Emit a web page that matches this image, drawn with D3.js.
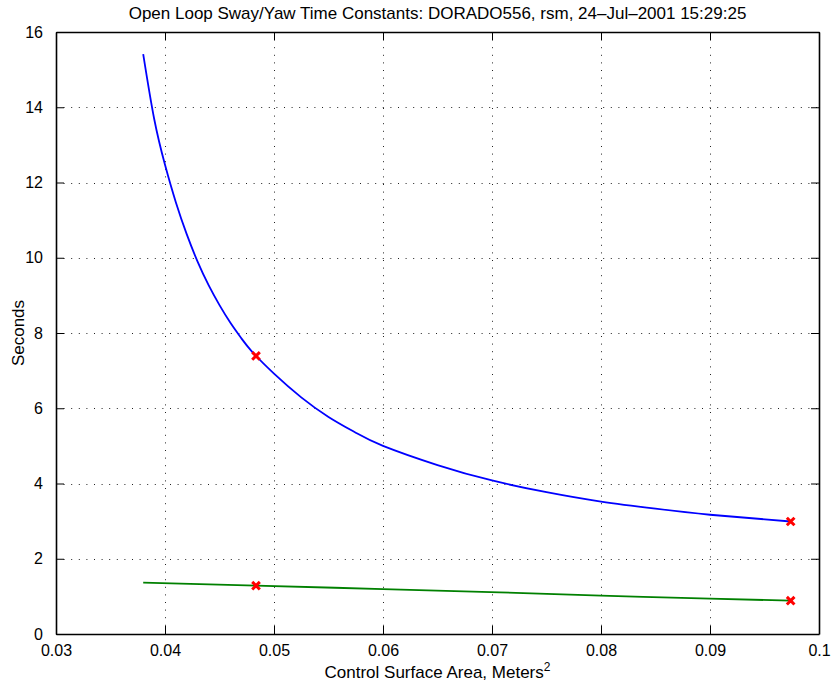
<!DOCTYPE html>
<html>
<head>
<meta charset="utf-8">
<script src="https://cdn.jsdelivr.net/npm/d3@7"></script>
<style>
  body { margin: 0; background: #fff; }
  text { font-family: "Liberation Sans", Arial, Helvetica, sans-serif; fill: #000; }
</style>
</head>
<body>
<div id="chart"></div>
<script>
// values
var swayX = [0.0380, 0.039, 0.040, 0.041, 0.042, 0.043, 0.044, 0.045, 0.046, 0.047, 0.048, 0.050, 0.0525, 0.055, 0.0575, 0.060, 0.065, 0.070, 0.075, 0.080, 0.085, 0.090, 0.0974];
var swayY = [15.41, 13.7, 12.47, 11.47, 10.62, 9.89, 9.27, 8.74, 8.27, 7.86, 7.5, 6.92, 6.29, 5.77, 5.35, 5.0, 4.49, 4.08, 3.77, 3.52, 3.33, 3.17, 2.99];
var yawX = [0.0380, 0.04835, 0.06, 0.0707, 0.08, 0.09, 0.0974];
var yawY = [1.364, 1.284, 1.195, 1.108, 1.018, 0.94, 0.886];
var markX = [0.04835, 0.0974];
var markSway = [7.39, 2.99];
var markYaw = [1.284, 0.886];
var xTicks = [0.03, 0.04, 0.05, 0.06, 0.07, 0.08, 0.09, 0.1];
var yTicks = [0, 2, 4, 6, 8, 10, 12, 14, 16];

var W = 831, H = 685;
var margin = {top: 32, right: 12, bottom: 51, left: 56};
var w = W - margin.left - margin.right,
    h = H - margin.top - margin.bottom;

var svg = d3.select("#chart").append("svg")
    .attr("width", W)
    .attr("height", H);

var g = svg.append("g")
    .attr("transform", "translate(" + margin.left + "," + margin.top + ")");

var x = d3.scaleLinear().domain([0.03, 0.1]).range([0, w]);
var y = d3.scaleLinear().domain([0, 16]).range([h, 0]);

//grid lines (dotted)
g.selectAll(".vgrid")
    .data(xTicks.slice(1, -1))
    .enter().append("line")
    .attr("x1", function(d){ return Math.round(x(d)) + 0.5; })
    .attr("x2", function(d){ return Math.round(x(d)) + 0.5; })
    .attr("y1", 0).attr("y2", h)
    .style("stroke", "#222")
    .style("stroke-width", 1)
    .style("stroke-dasharray", "1,6.6");

g.selectAll(".hgrid")
    .data(yTicks.slice(1, -1))
    .enter().append("line")
    .attr("y1", function(d){ return Math.round(y(d)) + 0.5; })
    .attr("y2", function(d){ return Math.round(y(d)) + 0.5; })
    .attr("x1", 0).attr("x2", w)
    .style("stroke", "#222")
    .style("stroke-width", 1)
    .style("stroke-dasharray", "1,6.6");

//axes with inward ticks
var tickLen = 8;
var xAxis = d3.axisBottom(x).tickValues(xTicks).tickSizeInner(-tickLen).tickSizeOuter(0).tickPadding(tickLen + 3)
    .tickFormat(function(d){ return d === 0.1 ? "0.1" : d3.format(".2f")(d); });
var xAxisTop = d3.axisTop(x).tickValues(xTicks).tickSizeInner(-tickLen).tickSizeOuter(0).tickFormat("");
var yAxis = d3.axisLeft(y).tickValues(yTicks).tickSizeInner(-tickLen).tickSizeOuter(0).tickPadding(tickLen + 5);
var yAxisRight = d3.axisRight(y).tickValues(yTicks).tickSizeInner(-tickLen).tickSizeOuter(0).tickFormat("");

function styleAxis(sel) {
    sel.selectAll("path").style("stroke", "#000").style("stroke-width", 1.6);
    sel.selectAll("line").style("stroke", "#000").style("stroke-width", 1);
    sel.selectAll("text").style("font-size", "16px").style("font-family", "'Liberation Sans', Arial, sans-serif").attr("fill", "#000");
}

g.append("g").attr("transform", "translate(0," + h + ")").call(xAxis).call(styleAxis);
g.append("g").call(xAxisTop).call(styleAxis);
g.append("g").call(yAxis).call(styleAxis);
g.append("g").attr("transform", "translate(" + w + ",0)").call(yAxisRight).call(styleAxis);

//curves
var line = d3.line()
    .x(function(d){ return x(d[0]); })
    .y(function(d){ return y(d[1]); })
    .curve(d3.curveNatural);

g.append("path")
    .datum(d3.zip(swayX, swayY))
    .attr("d", line)
    .style("fill", "none")
    .style("stroke", "#0000ff")
    .style("stroke-width", 1.8);

g.append("path")
    .datum(d3.zip(yawX, yawY))
    .attr("d", line)
    .style("fill", "none")
    .style("stroke", "#008000")
    .style("stroke-width", 1.8);

//red x markers
var marks = d3.zip(markX, markSway).concat(d3.zip(markX, markYaw));
var s = 3.8;
g.selectAll(".mark")
    .data(marks)
    .enter().append("path")
    .attr("class", "mark")
    .attr("d", function(d){
        var cx = x(d[0]), cy = y(d[1]);
        return "M" + (cx - s) + "," + (cy - s) + "L" + (cx + s) + "," + (cy + s) +
               "M" + (cx - s) + "," + (cy + s) + "L" + (cx + s) + "," + (cy - s);
    })
    .style("stroke", "#ff0000")
    .style("stroke-width", 3)
    .style("fill", "none");

//title and labels
svg.append("text")
    .attr("x", margin.left + w/2)
    .attr("y", 19)
    .attr("text-anchor", "middle")
    .style("font-size", "17px")
    .text("Open Loop Sway/Yaw Time Constants: DORADO556, rsm, 24\u2013Jul\u20132001 15:29:25");

var xl = svg.append("text")
    .attr("x", margin.left + w/2)
    .attr("y", 678)
    .attr("text-anchor", "middle")
    .style("font-size", "17px");
xl.append("tspan").text("Control Surface Area, Meters");
xl.append("tspan").attr("dy", "-7").style("font-size", "12px").text("2");

svg.append("text")
    .attr("transform", "translate(24," + (margin.top + h/2) + ") rotate(-90)")
    .attr("text-anchor", "middle")
    .style("font-size", "17px")
    .text("Seconds");
</script>
</body>
</html>
